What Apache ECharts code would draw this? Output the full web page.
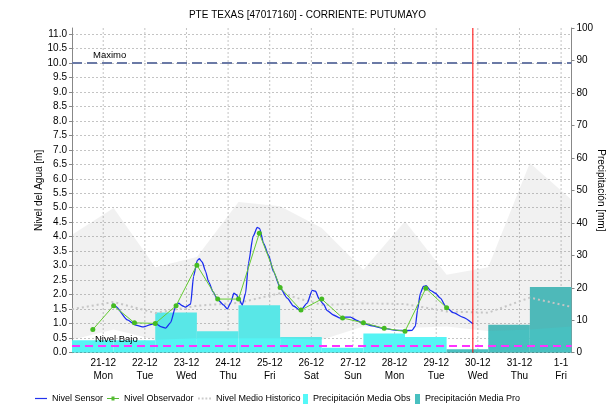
<!DOCTYPE html>
<html>
<head>
<meta charset="utf-8">
<script src="https://cdn.jsdelivr.net/npm/echarts@6/dist/echarts.min.js"></script>
<style>
  html, body { margin: 0; padding: 0; background: #fff; overflow: hidden; }
  #chart { width: 615px; height: 411px; }
</style>
</head>
<body>
<div id="chart"></div>
<script>
// Time is expressed in days since 21-12 00:00.
const dayLabels = ['21-12','22-12','23-12','24-12','25-12','26-12','27-12','28-12','29-12','30-12','31-12','1-1'];
const weekDays  = ['Mon','Tue','Wed','Thu','Fri','Sat','Sun','Mon','Tue','Wed','Thu','Fri'];

// Nivel Sensor (m)
const sensorTime  = [0.22,0.30,0.58,0.78,0.97,1.14,1.26,1.38,1.50,1.62,1.74,1.81,1.90,1.98,2.10,2.17,2.26,2.31,2.38,2.46,2.53,2.64,2.74,2.89,2.98,3.06,3.14,3.20,3.25,3.34,3.42,3.49,3.60,3.70,3.76,3.85,3.97,4.09,4.26,4.42,4.57,4.74,4.90,5.02,5.10,5.19,5.29,5.38,5.53,5.70,5.82,5.94,6.08,6.25,6.46,6.73,7.06,7.26,7.42,7.50,7.55,7.62,7.69,7.76,7.86,7.98,8.10,8.24,8.41,8.65,8.88];
const sensorLevel = [1.69,1.60,1.13,0.95,0.89,0.97,1.01,0.90,0.85,1.04,1.60,1.71,1.62,1.57,1.68,2.63,3.18,3.24,3.12,2.80,2.45,2.10,1.85,1.65,1.51,1.71,2.05,2.00,1.88,1.65,2.05,3.09,4.01,4.32,4.28,3.78,3.37,2.80,2.22,1.88,1.61,1.45,1.71,2.15,2.12,1.85,1.68,1.45,1.30,1.19,1.23,1.23,1.12,1.01,0.93,0.84,0.77,0.76,0.77,0.92,1.47,2.05,2.29,2.31,2.15,2.05,1.88,1.57,1.38,1.22,1.00];

// Nivel Observador (m), readings at 06:00 and 18:00
const observerTime  = [-0.25,0.25,0.75,1.25,1.75,2.25,2.75,3.25,3.75,4.25,4.75,5.25,5.75,6.25,6.75,7.25,7.75,8.25];
const observerLevel = [0.80,1.62,1.03,1.01,1.62,3.02,1.85,1.85,4.12,2.25,1.47,1.85,1.20,1.03,0.84,0.74,2.22,1.55];

// Historical statistics (m): mean, upper and lower envelope
const histTime  = [-0.75,0.25,1.25,2.25,3.25,4.25,5.25,6.25,7.25,8.25,9.25,10.25,11.25];
const histMean  = [1.50,1.75,1.37,1.62,1.72,2.05,1.65,1.70,1.68,1.42,1.38,1.90,1.58];
const histUpper = [4.07,4.99,2.95,3.30,5.20,5.05,4.30,2.86,4.53,2.69,2.95,6.54,5.28];
const histLower = [0.45,0.80,0.45,0.50,0.50,0.50,0.45,0.90,0.85,0.90,0.75,0.80,0.90];

// Daily precipitation (mm), each total starts at 06:00 of its day
const obsStart = [-0.75,0.25,1.25,2.25,3.25,4.25,5.25,6.25,7.25];
const obsMM    = [3.8,3.8,12.4,6.6,14.6,4.8,1.5,5.9,4.8];
const proStart = [8.25,9.25,10.25];
const proMM    = [1.1,8.6,20.2];

// Reference levels and current-time marker
const maximoLevel = 10.0;
const bajoLevel = 0.25;
const nowTime = 8.88;
const dayTicks = [0,1,2,3,4,5,6,7,8,9,10,11];

const FONT = "'Liberation Sans', Arial, sans-serif";
const DAY = 1;
const LEVEL_TOP = 11.2;

const chart = echarts.init(document.getElementById('chart'), null, { renderer: 'canvas' });

function precipBars(starts, values, color, name) {
  return {
    type: 'custom',
    name: name,
    xAxisIndex: 0,
    yAxisIndex: 1,
    z: 2,
    silent: true,
    clip: true,
    itemStyle: { color: color },
    encode: { x: [0, 1], y: 2 },
    data: starts.map((s, i) => [s, s + DAY, values[i]]),
    renderItem: function (params, api) {
      const a = api.coord([api.value(0), api.value(2)]);
      const b = api.coord([api.value(1), 0]);
      return {
        type: 'rect',
        shape: { x: a[0], y: a[1], width: b[0] - a[0], height: b[1] - a[1] },
        style: { fill: color }
      };
    }
  };
}

// full-height vertical rules at given times
function verticalRules(name, times, stroke, dash, z) {
  return {
    type: 'custom',
    name: name,
    xAxisIndex: 0,
    yAxisIndex: 0,
    z: z,
    silent: true,
    clip: true,
    encode: { x: 0 },
    data: times.map(t => [t]),
    renderItem: function (params, api) {
      const top = api.coord([api.value(0), LEVEL_TOP]);
      const bottom = api.coord([api.value(0), 0]);
      return {
        type: 'line',
        shape: { x1: top[0], y1: top[1], x2: bottom[0], y2: bottom[1] },
        style: { stroke: stroke, lineWidth: 1, lineDash: dash }
      };
    }
  };
}

function legendAt(left, item, width) {
  return {
    left: left,
    top: 389,
    itemWidth: width,
    itemHeight: 10,
    textStyle: { fontFamily: FONT, fontSize: 9, color: '#000' },
    data: [item]
  };
}

const option = {
  animation: false,
  backgroundColor: '#ffffff',
  textStyle: { fontFamily: FONT },
  title: {
    text: 'PTE TEXAS [47017160] - CORRIENTE: PUTUMAYO',
    left: 'center',
    top: 5,
    textStyle: { fontFamily: FONT, fontSize: 10, fontWeight: 'normal', color: '#000' }
  },
  grid: { left: 72, right: 43.5, top: 28, bottom: 58.3, containLabel: false, outerBoundsMode: 'none' },
  legend: [
    legendAt(30, { name: 'Nivel Sensor', icon: 'path://M0,4.4H12V5.6H0Z', itemStyle: { color: '#2233ee' } }, 12),
    legendAt(102, { name: 'Nivel Observador', icon: 'path://M0,4.5H12V5.5H0Z M4.5,3H7.5V7H4.5Z', itemStyle: { color: '#55bb33' } }, 12),
    legendAt(193, { name: 'Nivel Medio Historico', icon: 'path://M0,4H2V6H0Z M4,4H6V6H4Z M8,4H10V6H8Z M12,4H14V6H12Z', itemStyle: { color: '#cccccc' } }, 13),
    legendAt(298, { name: 'Precipitación Media Obs', icon: 'path://M0,0H5V10H0Z', itemStyle: { color: '#55f8f8' } }, 5),
    legendAt(410, { name: 'Precipitación Media Pro', icon: 'path://M0,0H5V10H0Z', itemStyle: { color: '#48c0c0' } }, 5)
  ],
  xAxis: {
    type: 'value',
    min: -0.75,
    max: 11.25,
    interval: 0.25,
    axisLine: { show: true, onZero: false, lineStyle: { color: '#555', type: [2, 2], width: 1 } },
    axisTick: { show: false },
    splitLine: { show: false },
    axisLabel: {
      fontFamily: FONT, fontSize: 10, color: '#000', margin: 4, lineHeight: 13,
      formatter: function (v) {
        const k = Math.round(v);
        if (Math.abs(v - k) > 1e-6 || k < 0 || k >= dayLabels.length) return '';
        return dayLabels[k] + '\n' + weekDays[k];
      }
    }
  },
  yAxis: [
    {
      type: 'value',
      min: 0, max: LEVEL_TOP, interval: 0.5,
      name: 'Nivel del Agua [m]',
      nameLocation: 'middle',
      nameGap: 28,
      nameMoveOverlap: false,
      nameTextStyle: { fontFamily: FONT, fontSize: 10, color: '#000' },
      axisLine: { show: true, onZero: false, lineStyle: { color: '#888' } },
      axisTick: { show: true, length: 3, lineStyle: { color: '#888' } },
      axisLabel: {
        fontFamily: FONT, fontSize: 10, color: '#000', margin: 5, showMaxLabel: false,
        formatter: v => v.toFixed(1)
      },
      splitLine: { show: true, showMaxLine: false, lineStyle: { color: '#c4c4c4', type: [2, 2], width: 1 } }
    },
    {
      type: 'value',
      min: 0, max: 100, interval: 10,
      name: 'Precipitación [mm]',
      nameLocation: 'middle',
      nameRotate: -90,
      nameGap: 24,
      nameMoveOverlap: false,
      nameTextStyle: { fontFamily: FONT, fontSize: 10, color: '#000' },
      axisLine: { show: true, onZero: false, lineStyle: { color: '#888' } },
      axisTick: { show: true, length: 3, lineStyle: { color: '#888' } },
      axisLabel: { fontFamily: FONT, fontSize: 10, color: '#000', margin: 5 },
      splitLine: { show: false }
    }
  ],
  series: [
    verticalRules('dias', dayTicks, '#c4c4c4', [2, 2], 1),
    precipBars(obsStart, obsMM, '#55f4f4', 'Precipitación Media Obs'),
    precipBars(proStart, proMM, '#48c0c0', 'Precipitación Media Pro'),
    // historical envelope
    {
      type: 'custom',
      name: 'envelope',
      xAxisIndex: 0,
      yAxisIndex: 0,
      z: 3,
      silent: true,
      clip: true,
      encode: { x: 0, y: 1 },
      data: histTime.map((t, i) => [t, histUpper[i], histLower[i]]),
      renderItem: function (params, api) {
        if (params.dataIndex !== 0) return null;
        const pts = [];
        for (let i = 0; i < histTime.length; i++) pts.push(api.coord([histTime[i], histUpper[i]]));
        for (let i = histTime.length - 1; i >= 0; i--) pts.push(api.coord([histTime[i], histLower[i]]));
        return { type: 'polygon', shape: { points: pts }, style: { fill: 'rgba(128,128,128,0.11)' } };
      }
    },
    {
      type: 'line',
      name: 'Nivel Medio Historico',
      z: 4,
      symbol: 'none',
      data: histTime.map((t, i) => [t, histMean[i]]),
      lineStyle: { color: '#c6c6c6', width: 2, type: [2, 3] },
      itemStyle: { color: '#c6c6c6' }
    },
    {
      type: 'line',
      name: 'Nivel Sensor',
      z: 5,
      symbol: 'none',
      smooth: 0.2,
      smoothMonotone: 'x',
      data: sensorTime.map((t, i) => [t, sensorLevel[i]]),
      lineStyle: { color: '#1a2cf0', width: 1.3 },
      itemStyle: { color: '#1a2cf0' },
      markLine: {
        silent: true,
        symbol: 'none',
        data: [
          {
            yAxis: maximoLevel,
            lineStyle: { color: '#6b7aa6', width: 2, type: [10, 5] },
            label: { show: true, position: 'insideStartTop', formatter: 'Maximo', distance: [21, 2],
                     fontFamily: FONT, fontSize: 9.5, color: '#000' }
          },
          {
            yAxis: bajoLevel,
            lineStyle: { color: '#ff33ff', width: 2, type: [8, 5] },
            label: { show: true, position: 'insideStartTop', formatter: 'Nivel Bajo', distance: [23, 1],
                     fontFamily: FONT, fontSize: 9.5, color: '#000' }
          }
        ]
      }
    },
    {
      type: 'line',
      name: 'Nivel Observador',
      z: 6,
      symbol: 'circle',
      symbolSize: 5,
      data: observerTime.map((t, i) => [t, observerLevel[i]]),
      lineStyle: { color: '#66cc33', width: 1 },
      itemStyle: { color: '#44bb22' }
    },
    verticalRules('ahora', [nowTime], '#ff0000', null, 7)
  ]
};

chart.setOption(option);
</script>
</body>
</html>
